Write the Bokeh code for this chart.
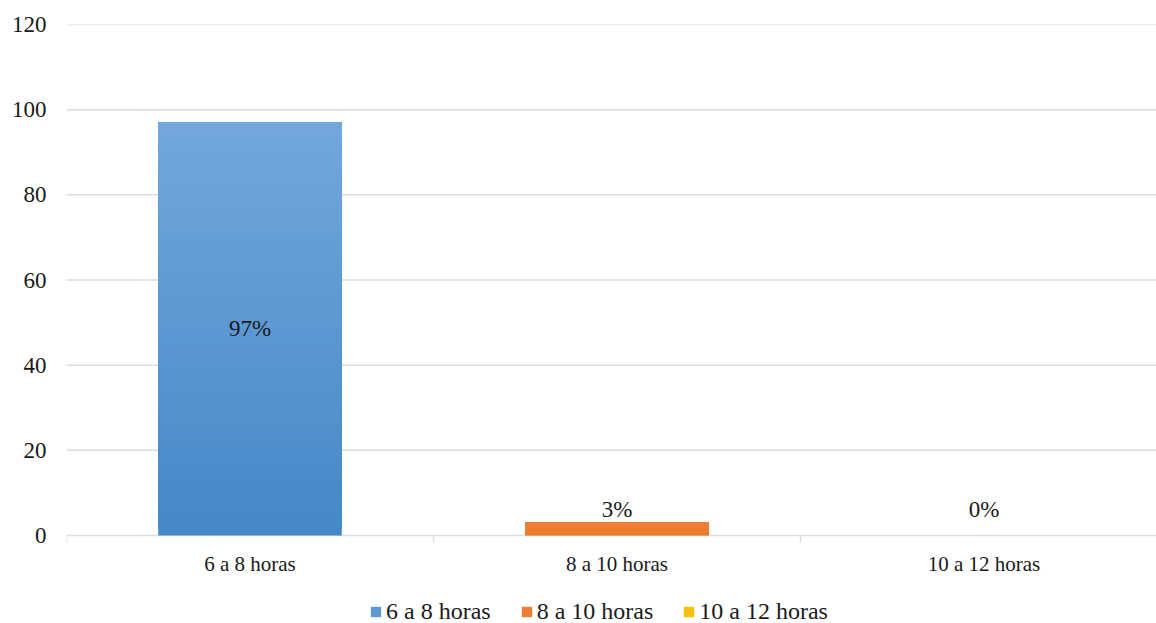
from bokeh.plotting import figure
from bokeh.models import (ColumnDataSource, FixedTicker, Legend, LegendItem,
                          LinearAxis, Range1d)
from bokeh.core.properties import value
from bokeh.embed import file_html
from bokeh.resources import INLINE

# Chart data
categories = ["6 a 8 horas", "8 a 10 horas", "10 a 12 horas"]
values = [97, 3, 0]
labels = ["97%", "3%", "0%"]
y_ticks = [0, 20, 40, 60, 80, 100, 120]

# Bar colours: (top, bottom) of a vertical gradient
colors = [("#73a7dc", "#4488c8"), ("#ef8139", "#ea7a2d"), ("#ffc516", "#f5b800")]

FONT = "Liberation Serif"
LEGEND_FONT = "'Liberation Serif', 'Times New Roman', serif"
TEXT = "#1a1a1a"
GRID = "#dadde3"
BAR_WIDTH = 0.5
N_SLICES = 60
X_END = 2.97

# page geometry (pixels)
W, H = 1156, 623
TOP, LEFT = 24, 66
PLOT_H = 511                      # height of the 0..120 value span
PX_PER_UNIT = PLOT_H / 120.0
Y_START = -(H - TOP - PLOT_H) / PX_PER_UNIT   # room under the baseline for labels/legend
TICK_LEN = 7 / PX_PER_UNIT


def mix(c1, c2, t):
    a = [int(c1[i:i + 2], 16) for i in (1, 3, 5)]
    b = [int(c2[i:i + 2], 16) for i in (1, 3, 5)]
    return "#%02x%02x%02x" % tuple(round(a[k] + (b[k] - a[k]) * t) for k in range(3))


p = figure(width=W, height=H, output_backend="svg", toolbar_location=None,
           x_range=Range1d(0, X_END), y_range=Range1d(Y_START, 120),
           x_axis_type=None, y_axis_type=None,
           min_border_left=LEFT, min_border_right=0, min_border_top=TOP,
           min_border_bottom=0,
           background_fill_color="white", border_fill_color="white")
p.outline_line_color = None

# y axis: labels only
yax = LinearAxis(ticker=FixedTicker(ticks=y_ticks))
yax.axis_line_color = None
yax.major_tick_line_color = None
yax.minor_tick_line_color = None
yax.major_label_text_font = FONT
yax.major_label_text_font_size = "23px"
yax.major_label_text_color = TEXT
yax.major_label_standoff = 14
p.add_layout(yax, "left")

# horizontal gridlines
for t in y_ticks[1:]:
    p.line([0, X_END], [t, t], line_color=GRID, line_width=1.5)

# category axis along the baseline: line, boundary ticks and centred labels
centers = [i + 0.5 for i in range(len(categories))]
bounds = list(range(len(categories) + 1))
p.line([0, X_END], [0, 0], line_color=GRID, line_width=1.5)
p.segment(x0=bounds, y0=[0] * len(bounds), x1=bounds, y1=[-TICK_LEN] * len(bounds),
          line_color=GRID, line_width=1.5)
cat_src = ColumnDataSource(dict(x=centers, y=[0] * len(centers), text=categories))
p.text(x="x", y="y", text="text", source=cat_src, y_offset=16,
       text_font=value(FONT), text_font_size="21px", text_color=TEXT,
       text_align="center", text_baseline="top")

# bars: stacked gradient bands, each band reaching the bar top so no seams show
items = []
for i, (cat, v, (top_c, bot_c)) in enumerate(zip(categories, values, colors)):
    bottoms = [v * k / N_SLICES for k in range(N_SLICES)]
    fills = [mix(bot_c, top_c, (k + 0.5) / N_SLICES) for k in range(N_SLICES)]
    src = ColumnDataSource(dict(
        left=[centers[i] - BAR_WIDTH / 2] * N_SLICES,
        right=[centers[i] + BAR_WIDTH / 2] * N_SLICES,
        bottom=bottoms, top=[v] * N_SLICES, fill=fills))
    r = p.quad(left="left", right="right", bottom="bottom", top="top",
               fill_color="fill", line_color=None, source=src)
    items.append(LegendItem(label=cat, renderers=[r], index=N_SLICES // 2))

# value labels: inside the tall bar, just above the short ones
lab_y = [v / 2 if v > 20 else max(v, 3) + 3 for v in values]
lab_src = ColumnDataSource(dict(x=centers, y=lab_y, text=labels))
p.text(x="x", y="y", text="text", source=lab_src,
       text_font=value(FONT), text_font_size="23px", text_color=TEXT,
       text_align="center", text_baseline="middle")

# legend at the foot of the page
legend = Legend(items=items, orientation="horizontal", location=(303, -2))
legend.label_text_font = LEGEND_FONT
legend.label_text_font_size = "24px"
legend.label_text_color = TEXT
legend.label_height = 22
legend.glyph_width = 13
legend.glyph_height = 13
legend.label_standoff = 4
legend.spacing = 29
legend.padding = 1
legend.margin = 0
legend.border_line_color = None
legend.background_fill_alpha = 0
p.add_layout(legend, "center")

open("out.html", "w").write(file_html(p, INLINE))
